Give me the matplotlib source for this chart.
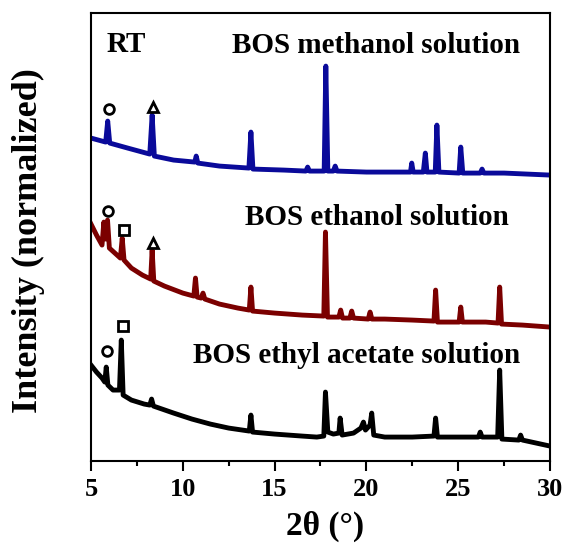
import numpy as np
import matplotlib.pyplot as plt

# XRD patterns (2theta in deg, intensity in arbitrary offset units)
meoh_x = [5.0, 5.8, 5.91, 6.02, 7.0, 8.2, 8.33, 8.45, 9.5, 10.65, 10.73, 10.82, 12.0,
          13.6, 13.71, 13.82, 15.5, 16.7, 16.8, 16.9, 17.7, 17.79, 17.9, 18.2, 18.3,
          18.4, 20.0, 22.4, 22.47, 22.55, 23.1, 23.21, 23.3, 23.75, 23.84, 23.95,
          25.05, 25.14, 25.25, 26.2, 26.3, 26.4, 27.5, 30.0]
meoh_y = [323, 319, 340, 318, 313, 307, 346, 305, 301, 299, 305, 298, 295,
          293, 329, 292, 291, 290, 294, 290, 290, 395, 290, 290, 295,
          290, 289, 289, 298, 289, 289, 308, 289, 289, 336, 289,
          288, 314, 288, 288, 292, 288, 288, 286]

etoh_x = [5.0, 5.3, 5.6, 5.7, 5.8, 5.9, 6.0, 6.3, 6.6, 6.7, 6.8, 7.2, 7.8, 8.25, 8.33,
          8.42, 9.0, 10.0, 10.6, 10.69, 10.78, 11.0, 11.1, 11.2, 12.0, 13.0, 13.62,
          13.71, 13.8, 15.0, 16.5, 17.68, 17.77, 17.88, 18.5, 18.6, 18.7, 19.1, 19.2,
          19.3, 20.1, 20.2, 20.3, 21.0, 22.5, 23.68, 23.77, 23.87, 25.05, 25.14, 25.23,
          26.5, 27.17, 27.26, 27.36, 28.5, 30.0]
etoh_y = [237, 226, 216, 239, 222, 241, 213, 208, 203, 223, 201, 193, 186, 182, 211,
          180, 175, 168, 165, 183, 164, 163, 168, 162, 157, 153, 151,
          174, 150, 148, 146, 145, 229, 144, 144, 151, 143, 143, 150,
          143, 142, 149, 142, 142, 141, 140, 171, 139, 139, 154, 139,
          139, 138, 174, 137, 136, 134]

etac_x = [5.0, 5.3, 5.6, 5.75, 5.83, 5.92, 6.2, 6.55, 6.65, 6.75, 7.2, 7.9, 8.2, 8.3,
          8.4, 9.5, 10.5, 11.5, 12.5, 13.62, 13.71, 13.8, 15.0, 16.5, 17.3, 17.68,
          17.77, 17.9, 18.2, 18.5, 18.57, 18.68, 19.3, 19.7, 19.84, 19.95, 20.2, 20.29,
          20.4, 21.0, 22.5, 23.68, 23.77, 23.87, 25.0, 26.1, 26.2, 26.3, 27.15, 27.26,
          27.38, 28.3, 28.4, 28.5, 29.0, 30.0]
etac_y = [96, 89, 83, 79, 94, 76, 71, 71, 121, 66, 61, 57, 56, 62,
          55, 48, 42, 37, 33, 30, 46, 29, 27, 25, 24, 25,
          69, 29, 27, 28, 43, 26, 28, 33, 39, 31, 36, 48,
          26, 24, 24, 25, 43, 24, 24, 24, 29, 24, 24, 91,
          22, 21, 26, 21, 19, 15]

# phase markers: (2theta, height)
circ_x = [5.96, 5.94, 5.89]
circ_y = [352, 250, 110]
sq_x = [6.81, 6.73]
sq_y = [231, 135]
tri_x = [8.39, 8.39]
tri_y = [354, 218]

serif = ['Liberation Serif', 'DejaVu Serif']
plt.rcParams['font.family'] = serif
plt.rcParams['font.weight'] = 'bold'

fig = plt.figure(figsize=(5.67, 5.45), dpi=100)
ax = fig.add_axes([0.1605, 0.154, 0.8095, 0.822])

ax.plot(meoh_x, meoh_y, color='#0a0a9a', lw=3.5)
ax.plot(etoh_x, etoh_y, color='#7b0000', lw=3.5)
ax.plot(etac_x, etac_y, color='black', lw=3.5)

mk = dict(ls='none', mfc='none', mec='black', mew=2, ms=7)
ax.plot(circ_x, circ_y, marker='o', **mk)
ax.plot(sq_x, sq_y, marker='s', **mk)
ax.plot(tri_x, tri_y, marker='^', **mk)

ax.text(5.86, 417, 'RT', fontsize=21, fontweight='bold', va='center')
ax.text(12.66, 416, 'BOS methanol solution', fontsize=21, fontweight='bold', va='center')
ax.text(13.39, 244, 'BOS ethanol solution', fontsize=21, fontweight='bold', va='center')
ax.text(10.57, 106, 'BOS ethyl acetate solution', fontsize=21, fontweight='bold', va='center')

ax.set_xlim(5, 30)
ax.set_ylim(0, 448)
ax.set_xticks([5, 10, 15, 20, 25, 30])
ax.set_xticks(np.arange(7.5, 30, 5), minor=True)
ax.set_yticks([])
ax.tick_params(axis='x', which='major', direction='out', length=7, width=1.5,
               labelsize=19, pad=5)
ax.tick_params(axis='x', which='minor', direction='out', length=3.5, width=1.5)
for lab in ax.get_xticklabels():
    lab.set_fontweight('bold')
for s in ax.spines.values():
    s.set_linewidth(1.5)

ax.set_xlabel('2θ (°)', fontsize=24, fontweight='bold')
ax.xaxis.set_label_coords(0.509, -0.112)
ax.set_ylabel('Intensity (normalized)', fontsize=26, fontweight='bold')
ax.yaxis.set_label_coords(-0.100, 0.492)

fig.savefig('out.png', dpi=100)
